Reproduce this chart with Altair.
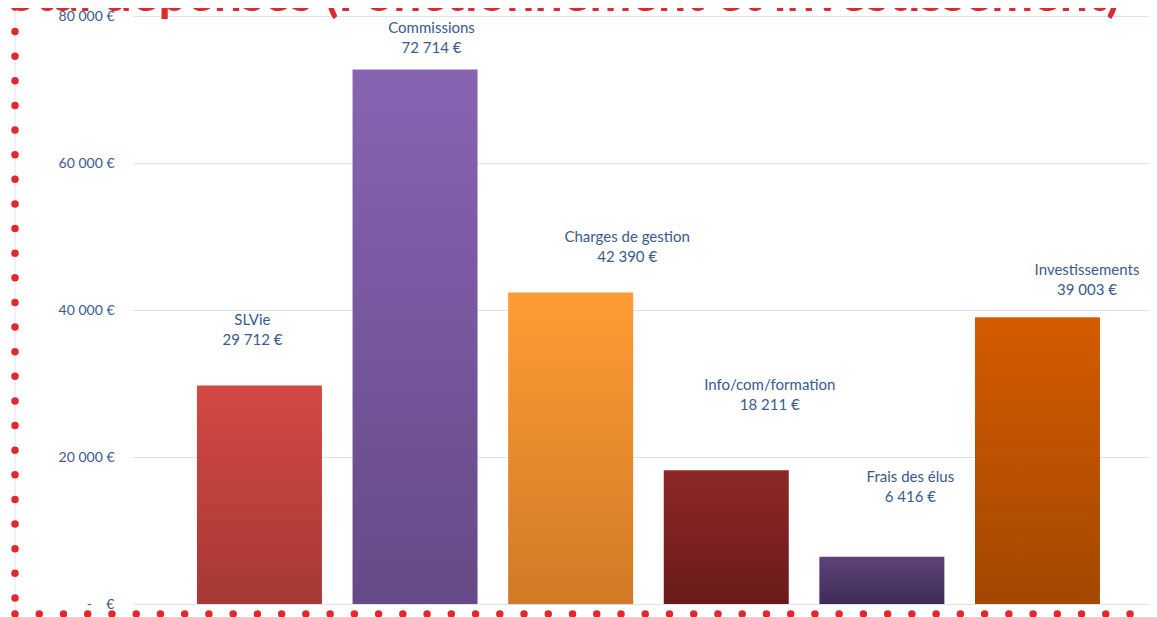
import altair as alt
import pandas as pd

NB = "\u00a0"

categories = ["SLVie", "Commissions", "Charges de gestion", "Info/com/formation",
              "Frais des élus", "Investissements"]
values = [29712, 72714, 42390, 18211, 6416, 39003]
y_ticks = [0, 20000, 40000, 60000, 80000]
title_text = "Total dépenses (Fonctionnement et investissement)"

top_colors = ["#D44843", "#8864B3", "#FF9B33", "#8E2828", "#5C447A", "#D45B00"]
bottom_colors = ["#A53935", "#654A87", "#D07A26", "#6A1A1A", "#3F2B57", "#A34800"]

# label placement (pixel offsets from bar centre / bar top, as hand-placed in original)
label_dx = [-7, 16.5, 56.5, 43.5, 28.5, 49.5]
label_dy = [-66, -42, -55, -85, -80, -47]

TEXT_BLUE = "#3A5A8C"
RED = "#DC2A2F"
GRID = "#D9E3F3"

W, H = 1016, 588

df = pd.DataFrame({"cat": categories, "value": values})

x_scale = alt.Scale(domain=categories, paddingInner=0.1967, paddingOuter=0.363, align=0.566)
y_scale = alt.Scale(domain=[0, 80000], nice=False, zero=True)

y_label_expr = (
    f"datum.value == 0 ? '-{NB*4}€' : "
    f"replace(format(datum.value, ',d'), ',', '{NB}') + '{NB}€'"
)
y_axis = alt.Axis(values=y_ticks, labelExpr=y_label_expr, grid=True, gridColor=GRID,
                  gridWidth=1, domain=False, ticks=False, labelPadding=19,
                  labelFont="Lato", labelFontSize=14, labelColor=TEXT_BLUE, title=None)

base = alt.Chart(df).transform_calculate(
    lbl=f"replace(format(datum.value, ',d'), ',', '{NB}') + '{NB}€'"
)

X = alt.X("cat:N", scale=x_scale, axis=None, sort=categories)
Y = alt.Y("value:Q", scale=y_scale, axis=y_axis)

layers = []
for i, c in enumerate(categories):
    sub = base.transform_filter(alt.datum.cat == c)
    grad = alt.Gradient(
        gradient="linear",
        stops=[alt.GradientStop(color=top_colors[i], offset=0),
               alt.GradientStop(color=bottom_colors[i], offset=1)],
        x1=0, x2=0, y1=0, y2=1,
    )
    layers.append(sub.mark_bar(color=grad).encode(x=X, y=Y))
    layers.append(sub.mark_text(dx=label_dx[i], dy=label_dy[i], font="Lato", fontSize=15,
                                color=TEXT_BLUE, baseline="middle")
                  .encode(x=X, y=Y, text="cat:N"))
    layers.append(sub.mark_text(dx=label_dx[i], dy=label_dy[i] + 20, font="Lato", fontSize=15,
                                color=TEXT_BLUE, baseline="middle")
                  .encode(x=X, y=Y, text="lbl:N"))

one = pd.DataFrame({"t": [title_text]})

frame_line = alt.Chart(one).mark_rule(color=GRID, strokeWidth=1).encode(
    x=alt.value(-118), y=alt.value(600), y2=alt.value(-20))
vdots = alt.Chart(one).mark_rule(color=RED, strokeWidth=7.5, strokeDash=[0, 24.63],
                                 strokeCap="round").encode(
    x=alt.value(-118), y=alt.value(582), y2=alt.value(-40))
hdots = alt.Chart(one).mark_rule(color=RED, strokeWidth=7.5, strokeDash=[0, 24.24],
                                 strokeCap="round").encode(
    x=alt.value(-118), x2=alt.value(1100), y=alt.value(598))
title = alt.Chart(one).mark_text(align="right", baseline="alphabetic", font="Lato",
                                 fontWeight="bold", fontSize=50, color=RED).encode(
    x=alt.value(987), y=alt.value(-5), text="t:N")

chart = alt.layer(*layers, frame_line, vdots, hdots, title).properties(
    width=W, height=H,
    autosize=alt.AutoSizeParams(type="none"),
    padding={"left": 125, "top": 8, "right": 0, "bottom": 13},
).configure_view(strokeWidth=0)

chart.save("out.html", embed_options={"renderer": "svg", "actions": False})
